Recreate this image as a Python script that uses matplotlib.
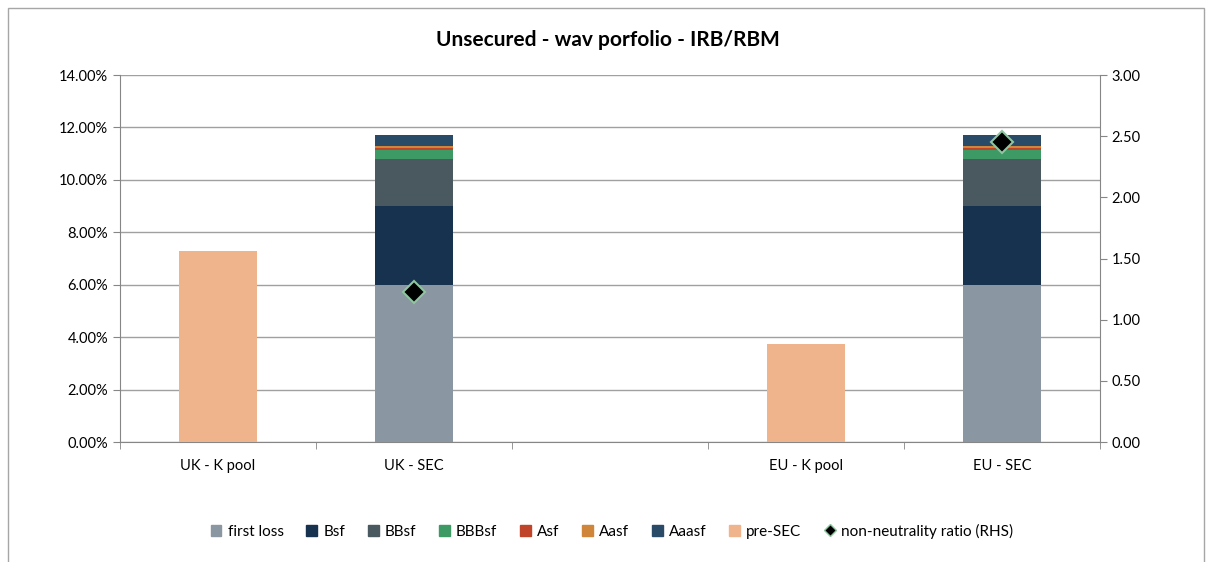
import numpy as np
import matplotlib.pyplot as plt
from matplotlib.ticker import PercentFormatter, FormatStrFormatter
from matplotlib.lines import Line2D
from matplotlib.patches import Patch, Rectangle

plt.rcParams['font.family'] = ['Lato', 'DejaVu Sans']

categories = ['UK - K pool', 'UK - SEC', '', 'EU - K pool', 'EU - SEC']
nan = np.nan
first_loss = [nan, 6.0, nan, nan, 6.0]
bsf = [nan, 3.0, nan, nan, 3.0]
bbsf = [nan, 1.8, nan, nan, 1.8]
bbbsf = [nan, 0.35, nan, nan, 0.35]
asf = [nan, 0.07, nan, nan, 0.07]
aasf = [nan, 0.08, nan, nan, 0.08]
aaasf = [nan, 0.42, nan, nan, 0.42]
pre_sec = [7.3, nan, nan, 3.75, nan]
ratio = [nan, 1.23, nan, nan, 2.45]

tranches = [('first loss', first_loss, '#8A96A1'),
            ('Bsf', bsf, '#17324F'),
            ('BBsf', bbsf, '#4A5860'),
            ('BBBsf', bbbsf, '#3E9A64'),
            ('Asf', asf, '#C0442A'),
            ('Aasf', aasf, '#D0863A'),
            ('Aaasf', aaasf, '#2A4B68')]

fig = plt.figure(figsize=(12.07, 5.62), dpi=100)
fig.patches.append(Rectangle((8 / 1207, -0.05), 1196 / 1207, 1.05 - 8 / 562,
                             transform=fig.transFigure, fill=False,
                             edgecolor='#A6A6A6', lw=1))
ax = fig.add_axes([120 / 1207, 1 - 442 / 562, 980 / 1207, 367 / 562])
x = np.arange(len(categories))
w = 0.4

bottom = np.zeros(len(categories))
handles = []
for name, vals, col in tranches:
    v = np.nan_to_num(np.array(vals, dtype=float))
    ax.bar(x, v, w, bottom=bottom, color=col, zorder=3)
    bottom += v
    handles.append(Patch(color=col, label=name))
ax.bar(x, np.nan_to_num(np.array(pre_sec)), w, color='#F0B48C', zorder=3)
handles.append(Patch(color='#F0B48C', label='pre-SEC'))

ax.set_ylim(0, 14)
ax.set_xlim(-0.5, len(categories) - 0.5)
ax.set_yticks(np.arange(0, 14.01, 2))
ax.yaxis.set_major_formatter(PercentFormatter(decimals=2))
ax.set_xticks(x)
ax.set_xticklabels(categories)
ax.set_xticks(np.arange(-0.5, len(categories)), minor=True)
ax.tick_params(axis='x', which='major', length=0, pad=12, labelsize=10.5)
ax.tick_params(axis='x', which='minor', length=5, color='#868686')
ax.tick_params(axis='y', length=5, color='#868686', labelsize=10.5)
ax.grid(axis='y', color='#A0A0A0', lw=1, zorder=0)
for s in ['left', 'bottom']:
    ax.spines[s].set_color('#868686')
ax.spines['top'].set_visible(False)
ax.spines['right'].set_visible(False)

ax2 = ax.twinx()
ax2.plot(x, ratio, linestyle='none', marker='D', markersize=11,
         markerfacecolor='black', markeredgecolor='#8FC5A0', markeredgewidth=1.5, zorder=5)
ax2.set_ylim(0, 3)
ax2.set_yticks(np.arange(0, 3.01, 0.5))
ax2.yaxis.set_major_formatter(FormatStrFormatter('%.2f'))
ax2.tick_params(axis='y', length=5, color='#868686', labelsize=10.5)
ax2.spines['right'].set_color('#868686')
for s in ['top', 'left', 'bottom']:
    ax2.spines[s].set_visible(False)

handles.append(Line2D([], [], linestyle='none', marker='D', markersize=6,
                      markerfacecolor='black', markeredgecolor='#8FC5A0',
                      label='non-neutrality ratio (RHS)'))
fig.legend(handles=handles, loc='center', bbox_to_anchor=(612 / 1207, 1 - 531 / 562),
           ncol=9, frameon=False, fontsize=11, handlelength=0.7, handleheight=0.7,
           handletextpad=0.4, columnspacing=1.5)

fig.text(608 / 1207, 1 - 40 / 562, 'Unsecured - wav porfolio - IRB/RBM',
         ha='center', va='center', fontsize=15, fontweight='bold')

fig.savefig('out.png', dpi=100)
